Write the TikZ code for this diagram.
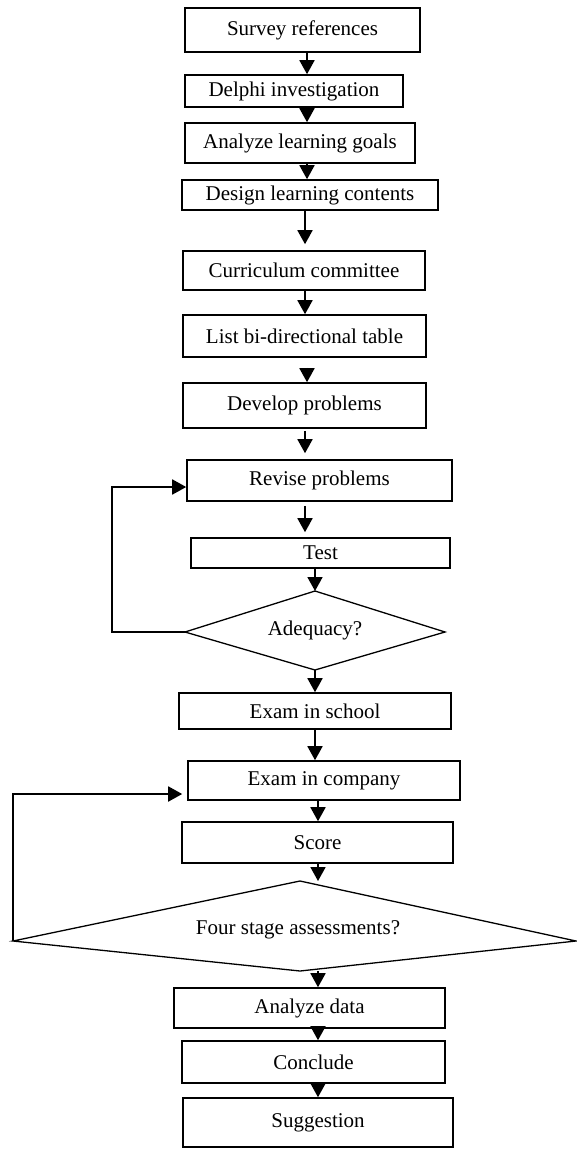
\documentclass[tikz,border=0pt]{standalone}
\usepackage{fontspec}
\setmainfont{Liberation Serif}
\usetikzlibrary{arrows.meta}
\begin{document}
\begin{tikzpicture}[x=1pt,y=-1pt,
  box/.style={draw,line width=1.6pt,inner sep=0pt,font=\fontsize{21}{25}\selectfont},
  lbl/.style={inner sep=0pt,font=\fontsize{21}{25}\selectfont},
  arr/.style={line width=1.8pt,-{Triangle[length=14pt,width=15pt]}},
  edge/.style={line width=1.3pt}
]
\useasboundingbox (0,0) rectangle (577,1149);
% columns for the arrows
\coordinate (k1) at (307,0);
\coordinate (k2) at (305,0);
\coordinate (k3) at (315,0);
\coordinate (k4) at (318,0);

\node[box,minimum width=235pt,minimum height=44pt] (sur) at (302.5,30) {Survey references};
\node[box,minimum width=218pt,minimum height=32pt] (del) at (294,91) {Delphi investigation};
\node[box,minimum width=230pt,minimum height=40pt] (alg) at (300,143) {Analyze learning goals};
\node[box,minimum width=256pt,minimum height=30pt] (dlc) at (310,195) {Design learning contents};
\node[box,minimum width=242pt,minimum height=39pt] (cur) at (304,270.5) {Curriculum committee};
\node[box,minimum width=243pt,minimum height=42pt] (lst) at (304.5,336) {List bi-directional table};
\node[box,minimum width=243pt,minimum height=45pt] (dev) at (304.5,405.5) {Develop problems};
\node[box,minimum width=265pt,minimum height=41pt] (rev) at (319.5,480.5) {Revise problems};
\node[box,minimum width=259pt,minimum height=30pt] (tst) at (320.5,553) {Test};
% adequacy diamond
\coordinate (adT) at (315,591);
\coordinate (adR) at (445,632);
\coordinate (adB) at (315,670);
\coordinate (adL) at (185,632);
\draw[edge] (adT) -- (adR) -- (adB) -- (adL) -- cycle;
\node[lbl] (adq) at (315,630) {Adequacy?};
\node[box,minimum width=272pt,minimum height=36pt] (sch) at (315,711) {Exam in school};
\node[box,minimum width=272pt,minimum height=39pt] (com) at (324,780.5) {Exam in company};
\node[box,minimum width=271pt,minimum height=41pt] (sco) at (317.5,842.5) {Score};
% four stage assessments diamond
\coordinate (fsT) at (300,881);
\coordinate (fsR) at (576,941);
\coordinate (fsB) at (300,971);
\coordinate (fsL) at (13,941);
\draw[edge] (fsT) -- (fsR) -- (fsB) -- (fsL) -- cycle;
\node[lbl] (fsa) at (298,930) {Four stage assessments?};
\node[box,minimum width=271pt,minimum height=40pt] (ana) at (309.5,1008) {Analyze data};
\node[box,minimum width=263pt,minimum height=42pt] (con) at (313.5,1062) {Conclude};
\node[box,minimum width=270pt,minimum height=49pt] (sug) at (318,1122.5) {Suggestion};

% connectors
\draw[arr] (sur.south -| k1) -- (del.north -| k1);
\draw[arr] (del.south -| k1) -- (alg.north -| k1);
\draw[arr] (alg.south -| k1) -- (dlc.north -| k1);
\draw[arr,shorten >=6pt] (dlc.south -| k2) -- (cur.north -| k2);
\draw[arr] (cur.south -| k2) -- (lst.north -| k2);
\draw[arr,shorten <=10pt] (lst.south -| k1) -- (dev.north -| k1);
\draw[arr,shorten <=2pt,shorten >=6pt] (dev.south -| k2) -- (rev.north -| k2);
\draw[arr,shorten <=4pt,shorten >=5pt] (rev.south -| k2) -- (tst.north -| k2);
\draw[arr] (tst.south -| k3) -- (adT -| k3);
\draw[arr] (adB -| k3) -- (sch.north -| k3);
\draw[arr] (sch.south -| k3) -- (com.north -| k3);
\draw[arr] (com.south -| k4) -- (sco.north -| k4);
\draw[arr] (sco.south -| k4) -- (fsT -| k4);
\draw[arr] (fsB -| k4) -- (ana.north -| k4);
\draw[arr] (ana.south -| k4) -- (con.north -| k4);
\draw[arr] (con.south -| k4) -- (sug.north -| k4);

% loops
\coordinate (loopA) at (112,487);
\draw[arr] (adL) -| (loopA) -- (loopA -| rev.west);
\coordinate (loopB) at (13,794);
\draw[arr,shorten >=5pt] (fsL) -- (loopB) -- (loopB -| com.west);
\end{tikzpicture}
\end{document}
